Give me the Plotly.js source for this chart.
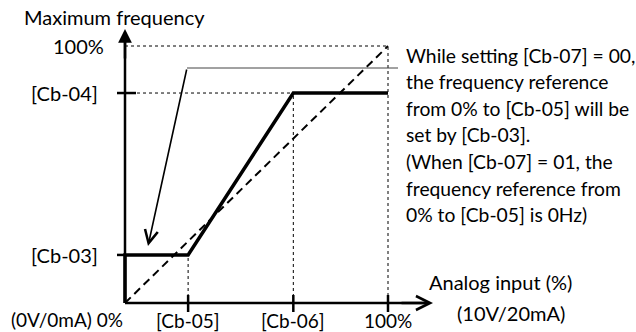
<!DOCTYPE html>
<html>
<head>
<meta charset="utf-8">
<script src="https://cdn.plot.ly/plotly-3.0.1.min.js"></script>
<style>html,body{margin:0;padding:0;background:#fff;}#chart{width:636px;height:332px;}</style>
</head>
<body>
<div id="chart"></div>
<script>
// ---- data (percent of full scale) ----
const paramNames = ['[Cb-03]', '[Cb-04]', '[Cb-05]', '[Cb-06]'];
const cb03 = 18.7;   // start frequency (% of max)
const cb04 = 81.7;   // end frequency (% of max)
const cb05 = 24;     // start input (%)
const cb06 = 64;     // end input (%)
const curveX = [0, 0, cb05, cb06, 100];
const curveY = [0, cb03, cb03, cb04, cb04];
const diagX = [0, 100];
const diagY = [0, 100];
const xTickVals = [cb05, cb06, 100];
const xTickText = ['[Cb-05]', '[Cb-06]', '100%'];
const yTickVals = [100, cb04, cb03];
const yTickText = ['100%', '[Cb-04]', '[Cb-03]'];
const noteLines = [
  'While setting [Cb-07] = 00,',
  'the frequency reference',
  'from 0% to [Cb-05] will be',
  'set by [Cb-03].',
  '(When [Cb-07] = 01, the',
  'frequency reference from',
  '0% to [Cb-05] is 0Hz)'
];

// ---- geometry: whole figure is the plot area, origin at pixel (125, 303) ----
const OX = 125, OY = 303;
const pxPerX = 2.63, pxPerY = 2.57;
const px2x = p => (p - OX) / pxPerX;
const py2y = p => (OY - p) / pxPerY;

const FONT = 'Lato, "Open Sans", sans-serif';
const fs = 20;

const traces = [];
const dot = {color: '#000', width: 1, dash: 'dot'};
// dotted guides
traces.push({x: [0, 100, 100], y: [100, 100, 0], mode: 'lines', line: dot});
traces.push({x: [0, 100], y: [cb04, cb04], mode: 'lines', line: dot});
traces.push({x: [cb05, cb05], y: [0, cb03], mode: 'lines', line: dot});
traces.push({x: [cb06, cb06], y: [0, cb04], mode: 'lines', line: dot});
// dashed diagonal
traces.push({x: diagX, y: diagY, mode: 'lines', line: {color: '#000', width: 2, dash: '8px,5px'}});
// thick characteristic
traces.push({x: curveX, y: curveY, mode: 'lines', line: {color: '#000', width: 3.5}});

const shapes = [];
const ln = (x0, y0, x1, y1, w, c) => shapes.push({type: 'line', xref: 'x', yref: 'y', x0, y0, x1, y1, line: {color: c || '#000', width: w}});
// axes
ln(0, 0, px2x(428), 0, 2.5);
ln(0, 0, 0, py2y(36), 2.5);
// x ticks
xTickVals.forEach(v => ln(v, py2y(295), v, py2y(312), 2.5));
// y ticks
ln(px2x(117), cb04, px2x(136), cb04, 2.5);
ln(px2x(117), cb03, 0, cb03, 2.5);
// callout horizontal line
ln(px2x(187), py2y(68), px2x(398), py2y(68), 1, '#444');

const ann = [];
const arrow = (x, y, ax, ay, head, size, w) => ann.push({xref: 'x', yref: 'y', axref: 'x', ayref: 'y', x, y, ax, ay, showarrow: true, arrowhead: head, arrowsize: size, arrowwidth: w, arrowcolor: '#000', text: ''});
arrow(px2x(433), 0, px2x(400), 0, 5, 1.1, 2.5);
arrow(0, py2y(29), 0, py2y(60), 2, 1.1, 2.5);
arrow(px2x(148), py2y(246), px2x(187), py2y(68), 5, 1.6, 1.6);

const txt = (s, x, y, xa, size) => ann.push({xref: 'x', yref: 'y', x, y, xanchor: xa, yanchor: 'middle', showarrow: false, text: s, borderpad: 0, borderwidth: 0, font: {family: FONT, size: size || fs, color: '#000'}});
// y tick labels
yTickVals.forEach((v, i) => txt(yTickText[i], px2x(i === 0 ? 104 : 98), v, 'right'));
// x tick labels
xTickVals.forEach((v, i) => txt(xTickText[i], v, py2y(320), 'center', 19));
txt('(0V/0mA) 0%', px2x(123), py2y(319), 'right', 19);
// axis titles
txt('Maximum frequency', px2x(24), py2y(17), 'left');
txt('Analog input (%)', px2x(500), py2y(282), 'center');
txt('(10V/20mA)', px2x(511), py2y(313), 'center');
// note
noteLines.forEach((s, i) => txt(s, px2x(406), py2y(55 + i * 26.6), 'left', 19.3));

const layout = {
  width: 636, height: 332,
  margin: {l: 0, r: 0, t: 0, b: 0, pad: 0},
  paper_bgcolor: '#fff', plot_bgcolor: '#fff',
  showlegend: false,
  xaxis: {range: [px2x(0), px2x(636)], visible: false, fixedrange: true},
  yaxis: {range: [py2y(332), py2y(0)], visible: false, fixedrange: true},
  shapes: shapes,
  annotations: ann,
  font: {family: FONT}
};
Plotly.newPlot('chart', traces.map(t => Object.assign({type: 'scatter', hoverinfo: 'skip'}, t)), layout, {staticPlot: true, displayModeBar: false});
</script>
</body>
</html>
